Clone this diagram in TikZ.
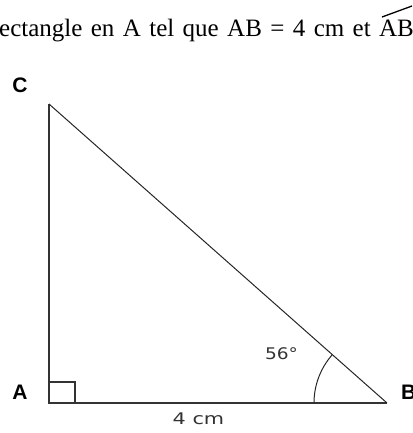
\documentclass[tikz,border=0pt]{standalone}
\usepackage{fontspec}
\setmainfont{Liberation Serif}
\newfontfamily\lab{Liberation Sans}
\newfontfamily\dlab{DejaVu Sans}
\begin{document}
\begin{tikzpicture}[x=1pt,y=-1pt,
  leg/.style={draw=black!80, line width=1.3pt},
  hyp/.style={draw=black!85, line width=1pt},
  vlabel/.style={font=\lab\bfseries\fontsize{21}{21}\selectfont, inner sep=0pt},
  dlabel/.style={font=\dlab\fontsize{16}{16}\selectfont, text=black!80, inner sep=0pt},
  toptext/.style={font=\fontsize{25}{25}\selectfont, inner sep=0pt, anchor=base west}]
\useasboundingbox (0,0) rectangle (412,433);
\coordinate (A) at (49,403);
\coordinate (B) at (387,403);
\coordinate (C) at (49,104);
\node[toptext] (title) at (-1,37) {\spaceskip=8.4pt\relax ectangle en A tel que AB = 4 cm et ABC};
\draw[line width=1.3pt] (382,17) -- (412,6);
\draw[leg] (C) -- (A) -- (B);
\draw[hyp] (B) -- (C);
\coordinate (sq) at (75,382);
\draw[leg] (A |- sq) -- (sq) -- (sq |- A);
\draw[hyp] ([shift={(180:73)}]B) arc[start angle=180, end angle=221.5, radius=73];
\node[vlabel] (lC) at (20,85) {C};
\node[vlabel] (lA) at (20,392) {A};
\node[vlabel, anchor=west] (lB) at (401,392) {B};
\node[dlabel] (l4) at (198.5,419) {\scalebox{1.3}[1]{4 cm}};
\node[dlabel] (l56) at (281.5,354) {\scalebox{1.16}[1]{56°}};
\end{tikzpicture}
\end{document}
